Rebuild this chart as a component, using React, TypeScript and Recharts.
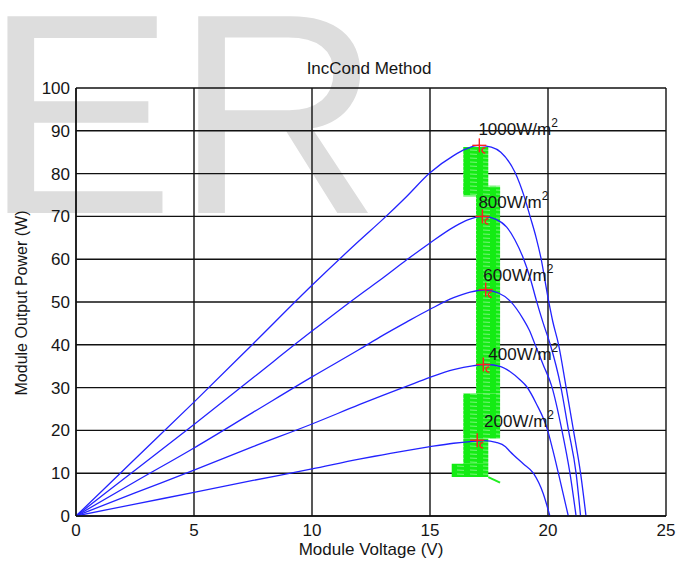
import React from 'react';
import {
  ComposedChart, Line, Scatter, XAxis, YAxis, CartesianGrid, ReferenceArea,
} from 'recharts';

const VOLT_TICKS = [0, 5, 10, 15, 20, 25];
const POWER_TICKS = [0, 10, 20, 30, 40, 50, 60, 70, 80, 90, 100];

const curve1000 = [
  { v: 0, p: 0 }, { v: 2.5, p: 13.3 }, { v: 5, p: 26.6 }, { v: 7.5, p: 40.2 }, { v: 10, p: 53.9 },
  { v: 12, p: 64.3 }, { v: 13, p: 69.3 }, { v: 14, p: 74.6 }, { v: 15, p: 80.2 }, { v: 16, p: 84.2 },
  { v: 16.5, p: 85.7 }, { v: 17.05, p: 86.6 }, { v: 17.6, p: 86.2 }, { v: 18, p: 85.0 }, { v: 18.6, p: 80.3 },
  { v: 19.0, p: 74.5 }, { v: 19.24, p: 70 }, { v: 19.5, p: 65 }, { v: 19.7, p: 60.3 }, { v: 20.0, p: 51 },
  { v: 20.2, p: 45.5 }, { v: 20.45, p: 40 }, { v: 20.76, p: 30.3 }, { v: 21.07, p: 20.3 }, { v: 21.38, p: 10 },
  { v: 21.61, p: 0 },
];

const curve800 = [
  { v: 0, p: 0 }, { v: 2.5, p: 10.7 }, { v: 5, p: 21.4 }, { v: 7.5, p: 32.3 }, { v: 10, p: 43.2 },
  { v: 12, p: 51.6 }, { v: 13, p: 55.6 }, { v: 14, p: 59.8 }, { v: 15, p: 63.8 }, { v: 16, p: 67.5 },
  { v: 16.6, p: 69.2 }, { v: 17.26, p: 70 }, { v: 17.8, p: 69.3 }, { v: 18.25, p: 67.5 }, { v: 18.6, p: 64.5 },
  { v: 18.95, p: 60.3 }, { v: 19.25, p: 55.5 }, { v: 19.5, p: 50.5 }, { v: 19.8, p: 45 }, { v: 20.1, p: 40 },
  { v: 20.54, p: 30.3 }, { v: 20.86, p: 20.3 }, { v: 21.19, p: 10 }, { v: 21.38, p: 0 },
];

const curve600 = [
  { v: 0, p: 0 }, { v: 2.5, p: 8 }, { v: 5, p: 15.9 }, { v: 7.5, p: 24.2 }, { v: 10, p: 32.5 },
  { v: 12, p: 38.9 }, { v: 13, p: 42.2 }, { v: 14, p: 45.3 }, { v: 15, p: 48.3 }, { v: 16, p: 51 },
  { v: 16.7, p: 52.3 }, { v: 17.3, p: 52.8 }, { v: 17.9, p: 52.1 }, { v: 18.4, p: 50.2 }, { v: 18.95, p: 46 },
  { v: 19.21, p: 43.4 }, { v: 19.45, p: 40.1 }, { v: 19.8, p: 35.3 }, { v: 20.16, p: 30.3 }, { v: 20.58, p: 20.3 },
  { v: 20.93, p: 10 }, { v: 21.19, p: 0 },
];

const curve400 = [
  { v: 0, p: 0 }, { v: 2.5, p: 5.4 }, { v: 5, p: 10.7 }, { v: 7.5, p: 16.2 }, { v: 10, p: 21.5 },
  { v: 12, p: 26 }, { v: 13, p: 28.2 }, { v: 14, p: 30.3 }, { v: 15, p: 32.4 }, { v: 16, p: 34.2 },
  { v: 16.8, p: 35.1 }, { v: 17.4, p: 35.4 }, { v: 18, p: 34.9 }, { v: 18.4, p: 33.7 }, { v: 18.8, p: 31.9 },
  { v: 19.1, p: 30.2 }, { v: 19.5, p: 26.3 }, { v: 19.97, p: 20.3 }, { v: 20.2, p: 15.5 }, { v: 20.44, p: 10 },
  { v: 20.86, p: 0 },
];

const curve200 = [
  { v: 0, p: 0 }, { v: 2.5, p: 2.8 }, { v: 5, p: 5.5 }, { v: 7.5, p: 8.3 }, { v: 10, p: 11.0 },
  { v: 12, p: 13.3 }, { v: 13, p: 14.3 }, { v: 14, p: 15.3 }, { v: 15, p: 16.2 }, { v: 16, p: 17.0 },
  { v: 16.7, p: 17.4 }, { v: 17.3, p: 17.6 }, { v: 17.8, p: 17.2 }, { v: 18.2, p: 16.2 }, { v: 18.4, p: 15.0 },
  { v: 18.95, p: 12.2 }, { v: 19.38, p: 10 }, { v: 19.8, p: 5.2 }, { v: 20.08, p: 0 },
];

const CURVES = [curve1000, curve800, curve600, curve400, curve200];

// MPPT oscillation band (IncCond operating points), in volts / watts
const trackV1 = [16.41, 16.95, 16.41, 16.41, 15.92, 16.41];
const trackV2 = [17.47, 17.97, 17.97, 17.47, 17.47, 17.97];
const trackP1 = [75.0, 28.6, 18.1, 12.2, 9.1, 74.6];
const trackP2 = [86.2, 76.8, 28.6, 18.1, 12.2, 77.2];
const trackTail = [{ v: 17.47, p: 9.1 }, { v: 17.97, p: 7.8 }];

const mppPoints = [
  { v: 17.09, p: 86.6 }, { v: 17.22, p: 70.0 }, { v: 17.36, p: 52.9 }, { v: 17.26, p: 35.4 }, { v: 17.0, p: 17.7 },
];

const irrLabels = [
  { v: 17.05, p: 89.0, text: '1000W/m' },
  { v: 17.05, p: 72.0, text: '800W/m' },
  { v: 17.26, p: 54.8, text: '600W/m' },
  { v: 17.47, p: 36.4, text: '400W/m' },
  { v: 17.29, p: 20.8, text: '200W/m' },
];

const FONT = '"Liberation Sans", Arial, Helvetica, sans-serif';
const TEXT = '#161616';

const StarShape = (props: any) => {
  const { cx, cy } = props;
  return (
    <g stroke="#ff1f1f" strokeWidth={1.4} fill="none">
      <line x1={cx - 7} y1={cy} x2={cx + 7} y2={cy} />
      <line x1={cx} y1={cy - 7} x2={cx} y2={cy + 7} />
      <path d={`M${cx + 6},${cy + 2.5} a2.6,2.6 0 1,0 0,5`} />
    </g>
  );
};

const LabelShape = (props: any) => {
  const { cx, cy } = props;
  const text = (props.payload && props.payload.text) || props.text;
  return (
    <text x={cx} y={cy} fontSize={17} fontFamily={FONT} fill={TEXT}>
      {text}
      <tspan dy={-8} fontSize={12}>2</tspan>
    </text>
  );
};

const YLabel = (props: any) => {
  const vb = props.viewBox || { x: 0, y: 88, width: 76, height: 428 };
  const x = vb.x + 21;
  const y = vb.y + vb.height / 2 + 1;
  return (
    <text
      x={x}
      y={y}
      transform={`rotate(-90 ${x} ${y})`}
      textAnchor="middle"
      dominantBaseline="central"
      fontSize={16}
      fontFamily={FONT}
      fill={TEXT}
    >
      Module Output Power (W)
    </text>
  );
};

export default function App() {
  return (
    <div style={{ position: 'absolute', left: 0, top: 0, width: 689, height: 561, background: '#fff', overflow: 'hidden' }}>
      <svg width={689} height={561} style={{ position: 'absolute', left: 0, top: 0 }}>
        <defs>
          <pattern id="mpptHatch" patternUnits="userSpaceOnUse" width={13} height={4}>
            <rect x={0} y={0} width={13} height={4} fill="#14ec14" />
            <line x1={2} y1={2} x2={9} y2={2.4} stroke="#ffffff" strokeOpacity={0.55} strokeWidth={0.8} />
          </pattern>
        </defs>
        <text x={-16} y={213} fontSize={286} fontFamily={FONT} fill="#dddddd">ER</text>
        <text x={369} y={74} fontSize={17} fontFamily={FONT} fill={TEXT} textAnchor="middle">IncCond Method</text>
      </svg>
      <div style={{ position: 'absolute', left: 0, top: 0 }}>
        <ComposedChart
          width={689}
          height={561}
          margin={{ top: 88, right: 23, bottom: 0, left: 0 }}
          style={{ fontFamily: FONT }}
        >
          <CartesianGrid stroke="#111" strokeWidth={1.4} verticalValues={VOLT_TICKS} horizontalValues={POWER_TICKS} />
          <XAxis
            type="number"
            dataKey="v"
            domain={[0, 25]}
            ticks={VOLT_TICKS}
            allowDataOverflow
            height={45}
            tickLine={false}
            axisLine={{ stroke: '#111', strokeWidth: 1.4 }}
            tick={{ fontSize: 17, fill: TEXT, fontFamily: FONT }}
            label={{ value: 'Module Voltage (V)', position: 'insideBottom', offset: 6, fontSize: 17, fill: TEXT, fontFamily: FONT }}
          />
          <YAxis
            type="number"
            dataKey="p"
            domain={[0, 100]}
            ticks={POWER_TICKS}
            allowDataOverflow
            width={76}
            tickLine={false}
            tickMargin={0}
            axisLine={{ stroke: '#111', strokeWidth: 1.4 }}
            tick={{ fontSize: 17, fill: TEXT, fontFamily: FONT }}
            label={<YLabel />}
          />
          {trackV1.map((v1, i) => (
            <ReferenceArea
              key={`trk${i}`}
              x1={v1}
              x2={trackV2[i]}
              y1={trackP1[i]}
              y2={trackP2[i]}
              fill="url(#mpptHatch)"
              fillOpacity={i === 5 ? 0.55 : 1}
              stroke="none"
            />
          ))}
          <Line data={trackTail} dataKey="p" stroke="#22ee22" strokeWidth={2} dot={false} isAnimationActive={false} />
          {CURVES.map((c, i) => (
            <Line
              key={`c${i}`}
              data={c}
              dataKey="p"
              type="monotone"
              stroke="#2323ff"
              strokeWidth={1.3}
              dot={false}
              activeDot={false}
              isAnimationActive={false}
            />
          ))}
          <Scatter data={mppPoints} dataKey="p" shape={<StarShape />} isAnimationActive={false} />
          <Scatter data={irrLabels} dataKey="p" shape={<LabelShape />} isAnimationActive={false} />
        </ComposedChart>
      </div>
    </div>
  );
}
